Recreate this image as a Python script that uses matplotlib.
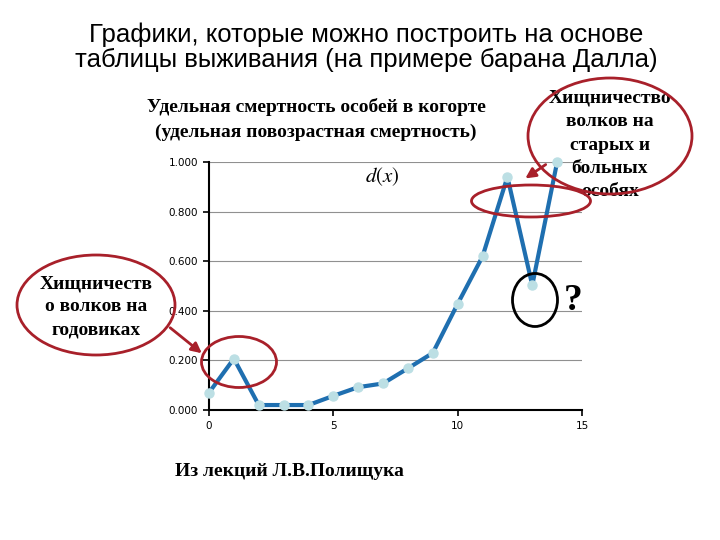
import matplotlib
matplotlib.use("Agg")
import matplotlib.pyplot as plt
from matplotlib.patches import Ellipse, FancyArrowPatch

plt.rcParams["mathtext.fontset"] = "stix"

# d(x) - specific age mortality of Dall sheep
age = [0, 1, 2, 3, 4, 5, 6, 7, 8, 9, 10, 11, 12, 13, 14]
dx = [0.070, 0.207, 0.020, 0.020, 0.020, 0.057, 0.092, 0.107, 0.168, 0.230,
      0.428, 0.619, 0.940, 0.503, 1.000]
yticks = [0.0, 0.2, 0.4, 0.6, 0.8, 1.0]
xticks = [0, 5, 10, 15]

title = ["Графики, которые можно построить на основе",
         "таблицы выживания (на примере барана Далла)"]
subtitle = ["Удельная смертность особей в когорте",
            "(удельная повозрастная смертность)"]
note_left = ["Хищничеств", "о волков на", "годовиках"]
note_right = ["Хищничество", "волков на", "старых и", "больных", "особях"]
source = "Из лекций Л.В.Полищука"

W, H = 720, 540
RED = "#a8202a"
SERIF = dict(family="Liberation Serif", weight="bold", fontsize=14)


def px(x, y):
    return (x / W, 1 - y / H)


def lines(strings, x, y0, step, **kw):
    for i, s in enumerate(strings):
        fig.text(*px(x, y0 + i * step), s, ha="center", va="baseline", **kw)


fig = plt.figure(figsize=(7.2, 5.4), dpi=100)
ax = fig.add_axes([209 / W, 130 / H, (582 - 209) / W, (410 - 162) / H])
ax.plot(age, dx, color="#1f6fb0", lw=3, marker="o", ms=6.5,
        mfc="#bcdfe4", mec="#bcdfe4", zorder=3, clip_on=False)
ax.set_xlim(0, 15)
ax.set_ylim(0, 1)
ax.set_xticks(xticks)
ax.set_yticks(yticks)
ax.set_yticklabels(["%.3f" % v for v in yticks])
ax.yaxis.grid(True, color="#909090", lw=0.8)
ax.set_axisbelow(True)
for s in ["top", "right"]:
    ax.spines[s].set_visible(False)
for s in ["left", "bottom"]:
    ax.spines[s].set_linewidth(1.5)
ax.tick_params(labelsize=7.5, length=4, width=1.2, pad=4)
fig.text(*px(382, 177), "$d(x)$", fontsize=15, ha="center", va="center")

lines(title, 366, 42, 25, fontsize=18.5, family=["Liberation Sans", "DejaVu Sans"])
lines(subtitle, 316, 112, 25, **SERIF)
lines(note_left, 96, 288, 23, **SERIF)
lines(note_right, 610, 103, 23.3, **SERIF)
fig.text(*px(175, 476), source, ha="left", va="baseline", **SERIF)
fig.text(*px(573, 301), "?", ha="center", va="center", fontsize=27,
         family="Liberation Serif", weight="bold")

# ellipses and arrows
ells = [((96, 305), 158, 100, RED),
        ((239, 362), 75, 51, RED),
        ((610, 136), 164, 116, RED),
        ((531, 201), 119, 32, RED),
        ((535, 300), 45, 53, "black")]
for (cx, cy), w, h, c in ells:
    fig.add_artist(Ellipse(px(cx, cy), w / W, h / H, transform=fig.transFigure,
                           fill=False, ec=c, lw=2, zorder=5))

for p0, p1 in [((168, 326), (204, 355)), ((548, 163), (523, 180))]:
    fig.add_artist(FancyArrowPatch(px(*p0), px(*p1), transform=fig.transFigure,
                                   arrowstyle="-|>,head_length=6,head_width=3",
                                   color=RED, lw=2, zorder=5))

fig.savefig("out.png", dpi=100)
